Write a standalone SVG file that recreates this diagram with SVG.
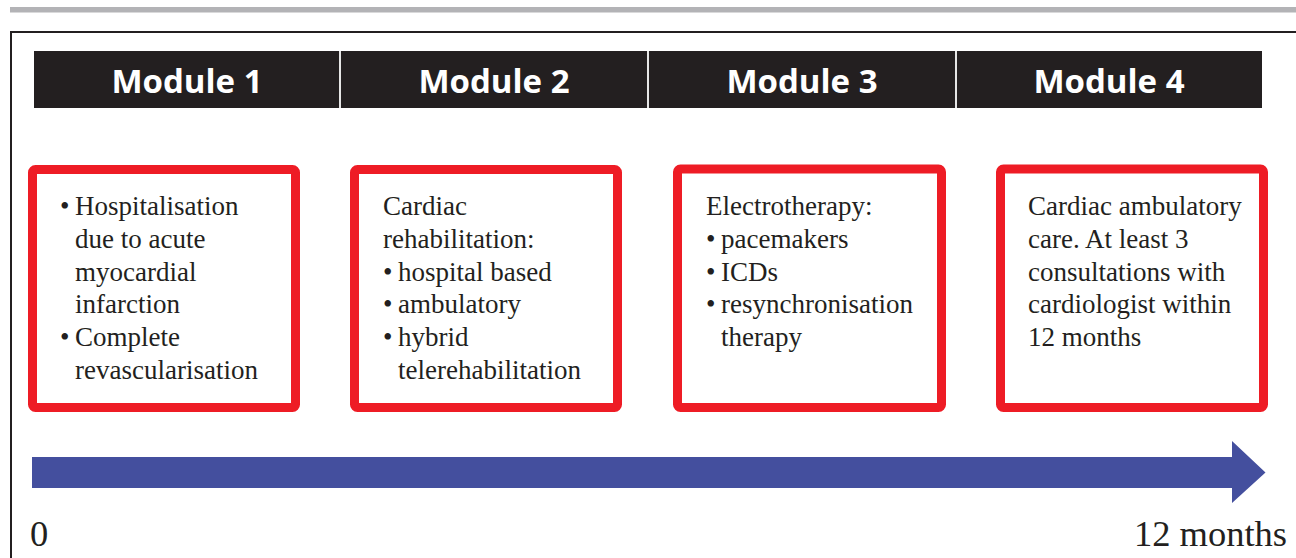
<svg xmlns="http://www.w3.org/2000/svg" width="1296" height="558" viewBox="0 0 1296 558">
  <style>
    .hdr { fill: #231f20; }
    .hdr-label { font-family: "Open Sans", "Liberation Sans", sans-serif; font-weight: 700; font-size: 33px; fill: #ffffff; text-anchor: middle; }
    .divider { stroke: #e6e6e6; stroke-width: 2; }
    .box { fill: #ffffff; stroke: #ee1c25; stroke-width: 9; }
    .body { font-family: "Liberation Serif", "Times New Roman", serif; font-size: 27px; fill: #231f20; }
    .axis { font-family: "Liberation Serif", "Times New Roman", serif; font-size: 36.5px; fill: #231f20; }
  </style>

  <!-- page rule and frame -->
  <rect x="10" y="7" width="1286" height="5.5" fill="#b3b3b6"/>
  <path d="M11 558 V32 H1296" fill="none" stroke="#231f20" stroke-width="2"/>

  <!-- module header strip -->
  <g id="header">
    <rect class="hdr" x="34" y="51" width="1228" height="57"/>
    <line class="divider" x1="340" y1="51" x2="340" y2="108"/>
    <line class="divider" x1="648" y1="51" x2="648" y2="108"/>
    <line class="divider" x1="956" y1="51" x2="956" y2="108"/>
    <text class="hdr-label" x="187" y="93">Module 1</text>
    <text class="hdr-label" x="494" y="93">Module 2</text>
    <text class="hdr-label" x="802" y="93">Module 3</text>
    <text class="hdr-label" x="1109" y="93">Module 4</text>
  </g>

  <!-- module 1 -->
  <g id="module1">
    <rect class="box" x="32.5" y="169.5" width="263" height="238" rx="3"/>
    <text class="body">
      <tspan x="60" y="215">•</tspan><tspan x="75" y="215">Hospitalisation</tspan>
      <tspan x="75" y="248">due to acute</tspan>
      <tspan x="75" y="280.5">myocardial</tspan>
      <tspan x="75" y="313">infarction</tspan>
      <tspan x="60" y="346">•</tspan><tspan x="75" y="346">Complete</tspan>
      <tspan x="75" y="379">revascularisation</tspan>
    </text>
  </g>

  <!-- module 2 -->
  <g id="module2">
    <rect class="box" x="354.5" y="169.5" width="263" height="238" rx="3"/>
    <text class="body">
      <tspan x="383" y="215">Cardiac</tspan>
      <tspan x="383" y="248">rehabilitation:</tspan>
      <tspan x="383" y="280.5">•</tspan><tspan x="398" y="280.5">hospital based</tspan>
      <tspan x="383" y="313">•</tspan><tspan x="398" y="313">ambulatory</tspan>
      <tspan x="383" y="346">•</tspan><tspan x="398" y="346">hybrid</tspan>
      <tspan x="398" y="379">telerehabilitation</tspan>
    </text>
  </g>

  <!-- module 3 -->
  <g id="module3">
    <rect class="box" x="677.5" y="169" width="264" height="238.5" rx="3"/>
    <text class="body">
      <tspan x="706" y="215">Electrotherapy:</tspan>
      <tspan x="706" y="248">•</tspan><tspan x="721" y="248">pacemakers</tspan>
      <tspan x="706" y="280.5">•</tspan><tspan x="721" y="280.5">ICDs</tspan>
      <tspan x="706" y="313">•</tspan><tspan x="721" y="313">resynchronisation</tspan>
      <tspan x="721" y="346">therapy</tspan>
    </text>
  </g>

  <!-- module 4 -->
  <g id="module4">
    <rect class="box" x="1000.5" y="169" width="263" height="238.5" rx="3"/>
    <text class="body">
      <tspan x="1028" y="215">Cardiac ambulatory</tspan>
      <tspan x="1028" y="248">care. At least 3</tspan>
      <tspan x="1028" y="280.5">consultations with</tspan>
      <tspan x="1028" y="313">cardiologist within</tspan>
      <tspan x="1028" y="346">12 months</tspan>
    </text>
  </g>

  <!-- timeline arrow -->
  <g id="connectors">
    <path d="M32 457 H1232 V441 L1265.5 472.5 L1232 503 V488 H32 Z" fill="#444f9e"/>
  </g>
  <text class="axis" x="30" y="546">0</text>
  <text class="axis" x="1287" y="546" text-anchor="end">12 months</text>
</svg>
